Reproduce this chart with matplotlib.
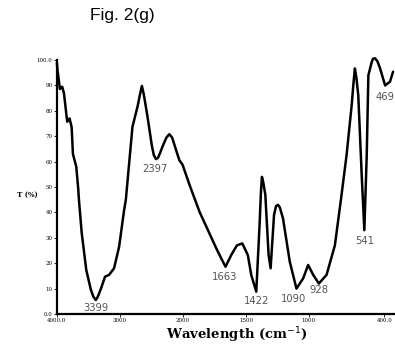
import numpy as np
import matplotlib
matplotlib.use("Agg")
import matplotlib.pyplot as plt

# Wavenumber (cm-1) and transmittance (%)
wavenumber = [4000, 3990, 3979, 3952, 3916, 3888, 3836, 3798, 3766, 3745, 3692, 3660,
              3650, 3606, 3533, 3460, 3420, 3383, 3350, 3300, 3235, 3171, 3092, 3012,
              2932, 2905, 2800, 2720, 2680, 2650, 2620, 2561, 2490, 2460, 2427, 2395,
              2360, 2322, 2260, 2215, 2170, 2100, 2056, 2003, 1948, 1868,
              1735, 1695, 1661, 1616, 1571, 1528, 1484, 1457, 1417, 1390, 1380, 1372,
              1362, 1345, 1319, 1303, 1276, 1260, 1245, 1230, 1205, 1151, 1098, 1045,
              1005, 965, 920, 859, 793, 740, 700, 660, 645, 634, 622, 607, 580, 559,
              540, 527, 500, 490, 474, 455, 434, 394, 355, 331]
transmittance = [99, 96, 94, 88.6, 89.5, 87, 75.7, 77, 73.6, 63, 58, 49,
                 45, 32, 17.3, 9.5, 6.8, 5.5, 6.8, 10, 14.7, 15.4, 18, 26.5,
                 41, 45, 73.7, 81.6, 86.5, 89.8, 86.5, 77.7, 66, 62.5, 61, 61.5,
                 63.5, 66, 69.5, 70.8, 69.5, 64, 60.6, 58.7, 51, 40.3,
                 25.9, 21.9, 18.6, 23.2, 27, 27.8, 23.2, 15.4, 8.8, 36, 48, 54,
                 52, 46.9, 23.2, 18, 39, 42.5, 43, 42, 37.7, 20.6, 10, 14,
                 19.3, 15.4, 12, 15.4, 27, 46.9, 62.6, 82, 91, 96.7, 93, 86, 54.7, 33,
                 62.6, 94, 99.3, 100.5, 100.7, 99.5, 96.7, 90, 91.5, 95.4]

# Peak annotations: text, x, y
peak_labels = ["3399", "2397", "1663", "1422", "1090", "928", "541", "469"]
peak_x = [3374, 2440, 1669, 1417, 1125, 920, 559, 395]
peak_y = [2.5, 57, 14.4, 5.2, 5.9, 9.4, 28.9, 85.5]

xtick_vals = [4000, 3000, 2000, 1500, 1000, 400]
xtick_text = ["4000.0", "3000", "2000", "1500", "1000", "400.0"]
ytick_vals = [0, 10, 20, 30, 40, 50, 60, 70, 80, 90, 100]
ytick_text = ["0.0", "10", "20", "30", "40", "50", "60", "70", "80", "90", "100.0"]


def fwd(x):
    x = np.asarray(x, dtype=float)
    return np.where(x > 2000, 2000 + (x - 2000) / 2.0, x)


def inv(t):
    t = np.asarray(t, dtype=float)
    return np.where(t > 2000, 2000 + 2.0 * (t - 2000), t)


fig = plt.figure(figsize=(3.95, 3.45), dpi=100)
ax = fig.add_axes([0.144, 0.0899, 0.853, 0.736])
ax.set_xscale("function", functions=(fwd, inv))
ax.plot(wavenumber, transmittance, color="black", lw=1.8, clip_on=False,
        solid_joinstyle="round", solid_capstyle="round")
ax.set_xlim(4000, 325)
ax.set_ylim(0, 100)

for s in ["top", "right"]:
    ax.spines[s].set_visible(False)
for s in ["left", "bottom"]:
    ax.spines[s].set_linewidth(1.6)

ax.set_xticks(xtick_vals)
ax.set_xticklabels(xtick_text, fontsize=4, family="DejaVu Serif")
ax.set_xticks([], minor=True)
ax.set_yticks(ytick_vals)
ax.set_yticklabels(ytick_text, fontsize=4, family="DejaVu Serif")
ax.tick_params(axis="both", length=2, width=0.6, pad=1.2)

for lab, x, y in zip(peak_labels, peak_x, peak_y):
    ax.text(x, y, lab, fontsize=7.2, color="#555555", ha="center", va="center",
            family="DejaVu Sans", clip_on=False)

fig.text(0.31, 0.955, "Fig. 2(g)", fontsize=12.5, family="Liberation Sans",
         ha="center", va="center")
fig.text(0.07, 0.435, "T (%)", fontsize=5, family="DejaVu Serif",
         fontweight="bold", ha="center", va="center")
fig.text(0.6, 0.028, "Wavelength (cm$^{-1}$)", fontsize=9.5,
         family="DejaVu Serif", fontweight="bold", ha="center", va="center")

fig.savefig("out.png", dpi=100)
